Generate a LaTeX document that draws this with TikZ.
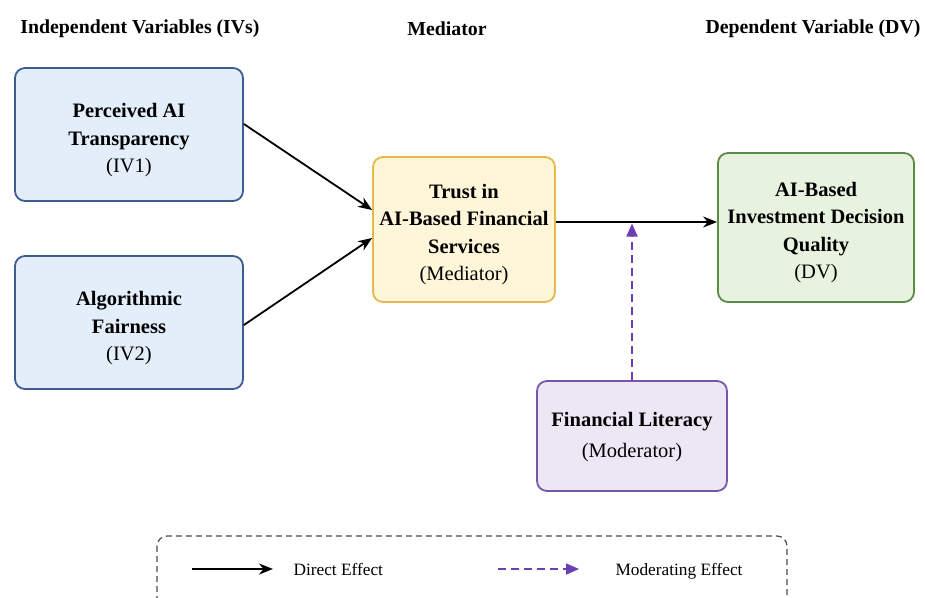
\documentclass[tikz,border=0pt]{standalone}
\usepackage{fontspec}
\setmainfont{Liberation Serif}
\usetikzlibrary{arrows.meta,calc}
\definecolor{ivfill}{HTML}{E4EEFA}
\definecolor{ivdraw}{HTML}{3D5C8F}
\definecolor{medfill}{HTML}{FFF5D9}
\definecolor{meddraw}{HTML}{E2B84F}
\definecolor{dvfill}{HTML}{E7F2DF}
\definecolor{dvdraw}{HTML}{5B8C47}
\definecolor{modfill}{HTML}{ECE6F5}
\definecolor{moddraw}{HTML}{7857A8}
\definecolor{modarrow}{HTML}{6A3FB3}
\tikzset{
  box/.style={draw, rounded corners=10pt, line width=1.8pt, inner sep=0pt},
  boxtext/.style={align=center, font=\fontsize{20.5}{27.5}\selectfont, inner sep=0pt},
  ivbox/.style={box, fill=ivfill, draw=ivdraw, minimum width=228pt, minimum height=133pt},
  medbox/.style={box, fill=medfill, draw=meddraw, minimum width=182pt, minimum height=145pt},
  dvbox/.style={box, fill=dvfill, draw=dvdraw, minimum width=196pt, minimum height=149pt},
  modbox/.style={box, fill=modfill, draw=moddraw, minimum width=190pt, minimum height=110pt},
  heading/.style={font=\fontsize{19.8}{24}\selectfont\bfseries},
  direct/.style={line width=1.8pt, -{Stealth[length=14pt,width=11pt]}},
  moderating/.style={line width=1.8pt, modarrow, dash pattern=on 8pt off 5pt, -{Triangle[length=13pt,width=11pt]}},
  legtext/.style={font=\fontsize{17.3}{20}\selectfont, anchor=base west}
}
\begin{document}
\begin{tikzpicture}[x=1pt,y=-1pt]
\useasboundingbox (0,0) rectangle (925,597);
\fill[white] (0,0) rectangle (925,597);

% headings
\node[heading] (h1) at (140,29) {Independent Variables (IVs)};
\node[heading] (h2) at (447,29) {Mediator};
\node[heading] (h3) at (813,29) {Dependent Variable (DV)};

% boxes
\node[ivbox] (iv1) at (129,134.5) {};
\node[boxtext] (iv1t) at ([yshift=-6pt]iv1.center) {\textbf{Perceived AI}\\\textbf{Transparency}\\(IV1)};
\node[ivbox] (iv2) at (129,322.5) {};
\node[boxtext] (iv2t) at ([yshift=-6pt]iv2.center) {\textbf{Algorithmic}\\\textbf{Fairness}\\(IV2)};
\node[medbox] (med) at (464,229.5) {};
\node[boxtext] (medt) at ([yshift=-5pt]med.center) {\textbf{Trust in}\\\textbf{AI-Based Financial}\\\textbf{Services}\\(Mediator)};
\node[dvbox] (dv) at (816,227.5) {};
\node[boxtext] (dvt) at ([yshift=-5pt]dv.center) {\textbf{AI-Based}\\\textbf{Investment Decision}\\\textbf{Quality}\\(DV)};
\node[modbox] (mod) at (632,436) {};
\node[boxtext] (modt) at ([yshift=-1pt]mod.center) {\textbf{Financial Literacy}\\[3pt](Moderator)};

% connectors
\draw[direct] ([yshift=10.5pt]iv1.east) -- ([yshift=19.5pt]med.west);
\draw[direct] ([yshift=-2.5pt]iv2.east) -- ([yshift=-8.5pt]med.west);
\coordinate (ms) at ([yshift=7.5pt]med.east);
\draw[direct] (ms) -- (ms -| dv.west);
\coordinate (mt) at ($(mod.north |- ms)+(0,1.5)$);
\draw[moderating] (mod.north) -- (mt);

% legend
\draw[gray!60!black, line width=1.2pt, dash pattern=on 6pt off 4pt, rounded corners=10pt]
  (157,536) rectangle (787,620);
\coordinate (l1a) at (192,569);
\coordinate (l1b) at (273,569);
\draw[direct] (l1a) -- (l1b);
\node[legtext] (lt1) at (290,575) {Direct Effect};
\coordinate (l2a) at (498,569);
\coordinate (l2b) at (579,569);
\draw[moderating] (l2a) -- (l2b);
\node[legtext] (lt2) at (612,575) {Moderating Effect};
\end{tikzpicture}
\end{document}
